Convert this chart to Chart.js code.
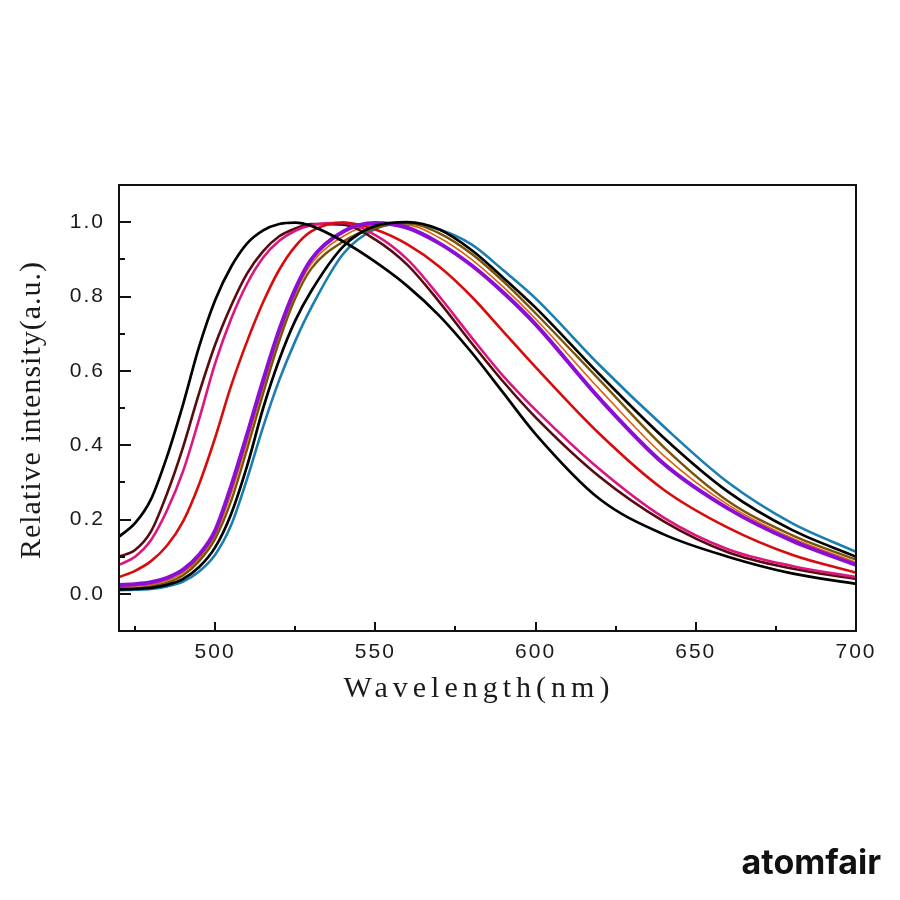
<!DOCTYPE html>
<html>
<head>
<meta charset="utf-8">
<script src="https://cdn.jsdelivr.net/npm/chart.js@4"></script>
<style>
  html, body { margin: 0; padding: 0; background: #fff; }
  canvas { display: block; }
</style>
</head>
<body>
<canvas id="chart" width="900" height="900"></canvas>
<script>
// wavelength grid (nm)
const wavelengths = [470, 475, 480, 485, 490, 495, 500, 505, 510, 515, 520, 525, 530, 540, 550, 560, 570, 580, 590, 600, 620, 640, 660, 680, 700];

// relative intensity
const black1 = [0.154, 0.190, 0.255, 0.370, 0.510, 0.665, 0.790, 0.880, 0.943, 0.978, 0.995, 0.999, 0.990, 0.948, 0.893, 0.828, 0.748, 0.650, 0.540, 0.430, 0.255, 0.160, 0.100, 0.055, 0.027];
const maroon = [0.100, 0.118, 0.168, 0.270, 0.395, 0.540, 0.670, 0.775, 0.862, 0.922, 0.962, 0.983, 0.995, 0.993, 0.953, 0.885, 0.785, 0.675, 0.570, 0.475, 0.315, 0.195, 0.112, 0.068, 0.040];
const pink   = [0.078, 0.100, 0.145, 0.225, 0.330, 0.470, 0.620, 0.740, 0.835, 0.905, 0.950, 0.977, 0.992, 0.998, 0.965, 0.900, 0.800, 0.690, 0.585, 0.495, 0.335, 0.205, 0.120, 0.075, 0.045];
const red    = [0.045, 0.062, 0.088, 0.130, 0.195, 0.295, 0.420, 0.560, 0.680, 0.785, 0.872, 0.935, 0.975, 0.999, 0.980, 0.940, 0.880, 0.800, 0.705, 0.610, 0.430, 0.280, 0.178, 0.105, 0.057];
const purple = [0.024, 0.026, 0.031, 0.043, 0.065, 0.105, 0.170, 0.290, 0.430, 0.575, 0.710, 0.820, 0.900, 0.975, 0.998, 0.985, 0.943, 0.884, 0.810, 0.725, 0.525, 0.350, 0.230, 0.143, 0.078];
const orange = [0.020, 0.021, 0.025, 0.036, 0.057, 0.096, 0.158, 0.270, 0.410, 0.558, 0.695, 0.808, 0.888, 0.962, 0.993, 0.992, 0.958, 0.900, 0.825, 0.740, 0.550, 0.372, 0.240, 0.150, 0.085];
const olive  = [0.015, 0.016, 0.020, 0.030, 0.050, 0.088, 0.148, 0.250, 0.390, 0.540, 0.680, 0.795, 0.875, 0.948, 0.985, 0.997, 0.970, 0.915, 0.840, 0.755, 0.575, 0.395, 0.250, 0.158, 0.092];
const black2 = [0.012, 0.013, 0.016, 0.024, 0.040, 0.072, 0.125, 0.215, 0.345, 0.500, 0.630, 0.735, 0.815, 0.935, 0.990, 1.000, 0.980, 0.925, 0.850, 0.770, 0.590, 0.420, 0.275, 0.172, 0.100];
const teal   = [0.010, 0.011, 0.013, 0.020, 0.033, 0.060, 0.105, 0.185, 0.310, 0.450, 0.575, 0.680, 0.770, 0.915, 0.982, 0.998, 0.980, 0.940, 0.870, 0.795, 0.615, 0.450, 0.300, 0.190, 0.113];

// axis ticks
const xMajor = [500, 550, 600, 650, 700];
const xMinor = [475, 525, 575, 625, 675];
const yMajor = [0, 0.2, 0.4, 0.6, 0.8, 1.0];
const yMinor = [0.1, 0.3, 0.5, 0.7, 0.9];

function pts(arr) {
    return wavelengths.map((w, i) => ({ x: w, y: arr[i] }));
}

// first dataset ends up on top
const series = [
    { data: black1, color: "#000000", width: 2.7 },
    { data: black2, color: "#000000", width: 2.7 },
    { data: purple, color: "#8a0fd2", width: 4 },
    { data: olive,  color: "#7a5406", width: 2.4 },
    { data: red,    color: "#d80c0c", width: 2.6 },
    { data: pink,   color: "#dc1680", width: 2.6 },
    { data: maroon, color: "#550c0c", width: 2.6 },
    { data: teal,   color: "#1a7fae", width: 2.6 },
    { data: orange, color: "#e0600a", width: 1.6 }
];

const frameTicks = {
    id: "frameTicks",
    beforeDraw(chart) {
        chart.ctx.letterSpacing = "2px";
    },
    afterDraw(chart) {
        const ctx = chart.ctx;
        const a = chart.chartArea;
        const x = chart.scales.x, y = chart.scales.y;
        ctx.save();
        ctx.letterSpacing = "0px";
        ctx.strokeStyle = "#111";
        ctx.lineWidth = 2;
        ctx.strokeRect(a.left, a.top, a.right - a.left, a.bottom - a.top);

        ctx.beginPath();
        xMajor.forEach(v => { const px = Math.round(x.getPixelForValue(v)); ctx.moveTo(px, a.bottom); ctx.lineTo(px, a.bottom - 9); });
        xMinor.forEach(v => { const px = Math.round(x.getPixelForValue(v)); ctx.moveTo(px, a.bottom); ctx.lineTo(px, a.bottom - 5); });
        yMajor.forEach(v => { const py = Math.round(y.getPixelForValue(v)); ctx.moveTo(a.left, py); ctx.lineTo(a.left + 12, py); });
        yMinor.forEach(v => { const py = Math.round(y.getPixelForValue(v)); ctx.moveTo(a.left, py); ctx.lineTo(a.left + 6, py); });
        ctx.stroke();

        // axis titles
        ctx.fillStyle = "#1a1a1a";
        ctx.textAlign = "center";
        ctx.textBaseline = "alphabetic";
        ctx.font = "30px 'Liberation Serif'";
        ctx.letterSpacing = "5px";
        ctx.fillText("Wavelength(nm)", 479, 697);

        ctx.letterSpacing = "1px";
        ctx.translate(40, 410);
        ctx.rotate(-Math.PI / 2);
        ctx.fillText("Relative intensity(a.u.)", 0, 0);
        ctx.restore();

        // watermark
        ctx.save();
        ctx.letterSpacing = "0px";
        ctx.fillStyle = "#111";
        ctx.font = "bold 34px Inter";
        ctx.textAlign = "right";
        ctx.fillText("atomfair", 881, 874);
        ctx.restore();
    }
};

new Chart(document.getElementById("chart"), {
    type: "line",
    data: {
        datasets: series.map(s => ({
            data: pts(s.data),
            borderColor: s.color,
            borderWidth: s.width,
            pointRadius: 0,
            fill: false,
            cubicInterpolationMode: "monotone"
        }))
    },
    options: {
        responsive: false,
        animation: false,
        layout: { padding: { left: 0, right: 44, top: 185, bottom: 0 } },
        plugins: { legend: { display: false }, tooltip: { enabled: false } },
        scales: {
            x: {
                type: "linear",
                min: 470,
                max: 700,
                grid: { display: false, drawTicks: false },
                border: { display: false },
                ticks: {
                    color: "#1a1a1a",
                    font: { family: "'Liberation Sans'", size: 21 },
                    padding: 9,
                    maxRotation: 0,
                    callback: v => String(v)
                },
                afterBuildTicks: s => { s.ticks = xMajor.map(v => ({ value: v })); },
                afterFit: s => { s.height = 269; }
            },
            y: {
                min: -0.1,
                max: 1.1,
                grid: { display: false, drawTicks: false },
                border: { display: false },
                ticks: {
                    color: "#1a1a1a",
                    font: { family: "'Liberation Sans'", size: 21 },
                    padding: 14,
                    callback: v => v.toFixed(1)
                },
                afterBuildTicks: s => { s.ticks = yMajor.map(v => ({ value: v })); },
                afterFit: s => { s.width = 119; }
            }
        }
    },
    plugins: [frameTicks]
});
</script>
</body>
</html>
